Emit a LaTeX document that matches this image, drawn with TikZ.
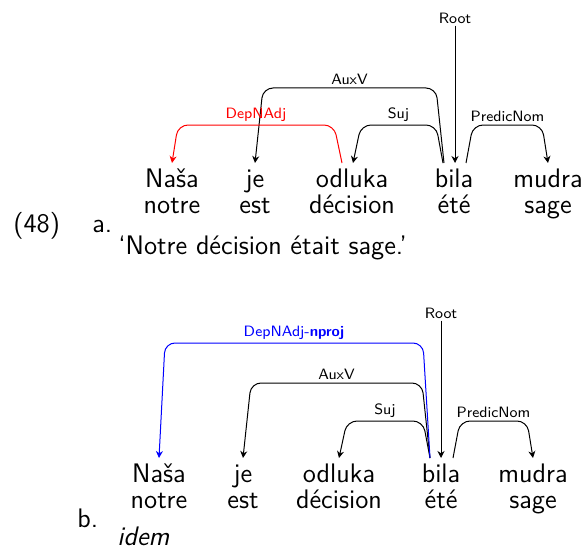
\documentclass[tikz,border=0pt]{standalone}
\usepackage{fontspec}
\usetikzlibrary{arrows.meta,calc}
\begin{document}
\begin{tikzpicture}[x=0.5pt,y=-0.5pt,
  word/.style={font=\sffamily\fontsize{13.4}{15}\selectfont,anchor=base,inner sep=0pt},
  txt/.style={font=\sffamily\fontsize{13.4}{15}\selectfont,anchor=base west,inner sep=0pt},
  lab/.style={font=\sffamily\fontsize{7.5}{9}\selectfont,above,inner sep=1.5pt},
  dep/.style={line width=0.5pt,rounded corners=5pt,-{Stealth[length=3.5pt,width=3.5pt]}},
  rootlab/.style={font=\sffamily\fontsize{7.5}{9}\selectfont,inner sep=1pt}]
\useasboundingbox (0,0) rectangle (583,551);
% ---------- (48) a.
\node[txt] (num) at (13,232) {(48)};
\node[txt] (la) at (92,232) {a.};
\node[word] (n1) at (172,187) {Naša};
\node[word] (j1) at (255,187) {je};
\node[word] (o1) at (352,187) {odluka};
\node[word] (b1) at (454,187) {bila};
\node[word] (m1) at (548,187) {mudra};
\node[word] (gn1) at (172,213) {notre};
\node[word] (gj1) at (255,213) {est};
\node[word] (go1) at (352,213) {décision};
\node[word] (gb1) at (454,213) {été};
\node[word] (gm1) at (548,213) {sage};
\node[txt] (tr1) at (118,254) {‘Notre décision était sage.’};
\node[rootlab] (r1) at (455,18) {Root};
\draw[dep] (r1.south) -- ($(b1.base)+(1,-24)$);
\draw[dep] ($(b1.base)+(-10,-24)$) -- ($(b1.base)+(-18,-99)$) -- node[lab]{AuxV} ($(j1.base)+(8,-99)$) -- ($(j1.base)+(0,-24)$);
\draw[dep] ($(b1.base)+(-11,-24)$) -- ($(b1.base)+(-18,-62)$) -- node[lab]{Suj} ($(o1.base)+(9,-62)$) -- ($(o1.base)+(1,-24)$);
\draw[dep] ($(b1.base)+(12,-24)$) -- ($(b1.base)+(19,-62)$) -- node[lab]{PredicNom} ($(m1.base)+(-6,-62)$) -- ($(m1.base)+(0,-24)$);
\draw[dep,red] ($(o1.base)+(-10,-24)$) -- ($(o1.base)+(-18,-62)$) -- node[lab]{DepNAdj} ($(n1.base)+(6,-62)$) -- ($(n1.base)+(0,-24)$);
% ---------- b.
\node[txt] (lb) at (77,527) {b.};
\node[word] (n2) at (159,482) {Naša};
\node[word] (j2) at (243,482) {je};
\node[word] (o2) at (339,482) {odluka};
\node[word] (b2) at (441,482) {bila};
\node[word] (m2) at (533,482) {mudra};
\node[word] (gn2) at (159,508) {notre};
\node[word] (gj2) at (243,508) {est};
\node[word] (go2) at (339,508) {décision};
\node[word] (gb2) at (441,508) {été};
\node[word] (gm2) at (533,508) {sage};
\node[txt] (tr2) at (117,545) {\itshape idem};
\node[rootlab] (r2) at (441,313) {Root};
\draw[dep] (r2.south) -- ($(b2.base)+(0,-24)$);
\draw[dep] ($(b2.base)+(-11,-24)$) -- ($(b2.base)+(-19,-99)$) -- node[lab]{AuxV} ($(j2.base)+(8,-99)$) -- ($(j2.base)+(0,-24)$);
\draw[dep] ($(b2.base)+(-11,-24)$) -- ($(b2.base)+(-18,-61)$) -- node[lab]{Suj} ($(o2.base)+(8,-61)$) -- ($(o2.base)+(0,-24)$);
\draw[dep] ($(b2.base)+(12,-24)$) -- ($(b2.base)+(19,-61)$) -- node[lab]{PredicNom} ($(m2.base)+(-6,-61)$) -- ($(m2.base)+(0,-24)$);
\draw[dep,blue] ($(b2.base)+(-11,-24)$) -- ($(b2.base)+(-18,-139)$) -- node[lab]{DepNAdj-\textbf{nproj}} ($(n2.base)+(6,-139)$) -- ($(n2.base)+(0,-24)$);
\end{tikzpicture}
\end{document}
